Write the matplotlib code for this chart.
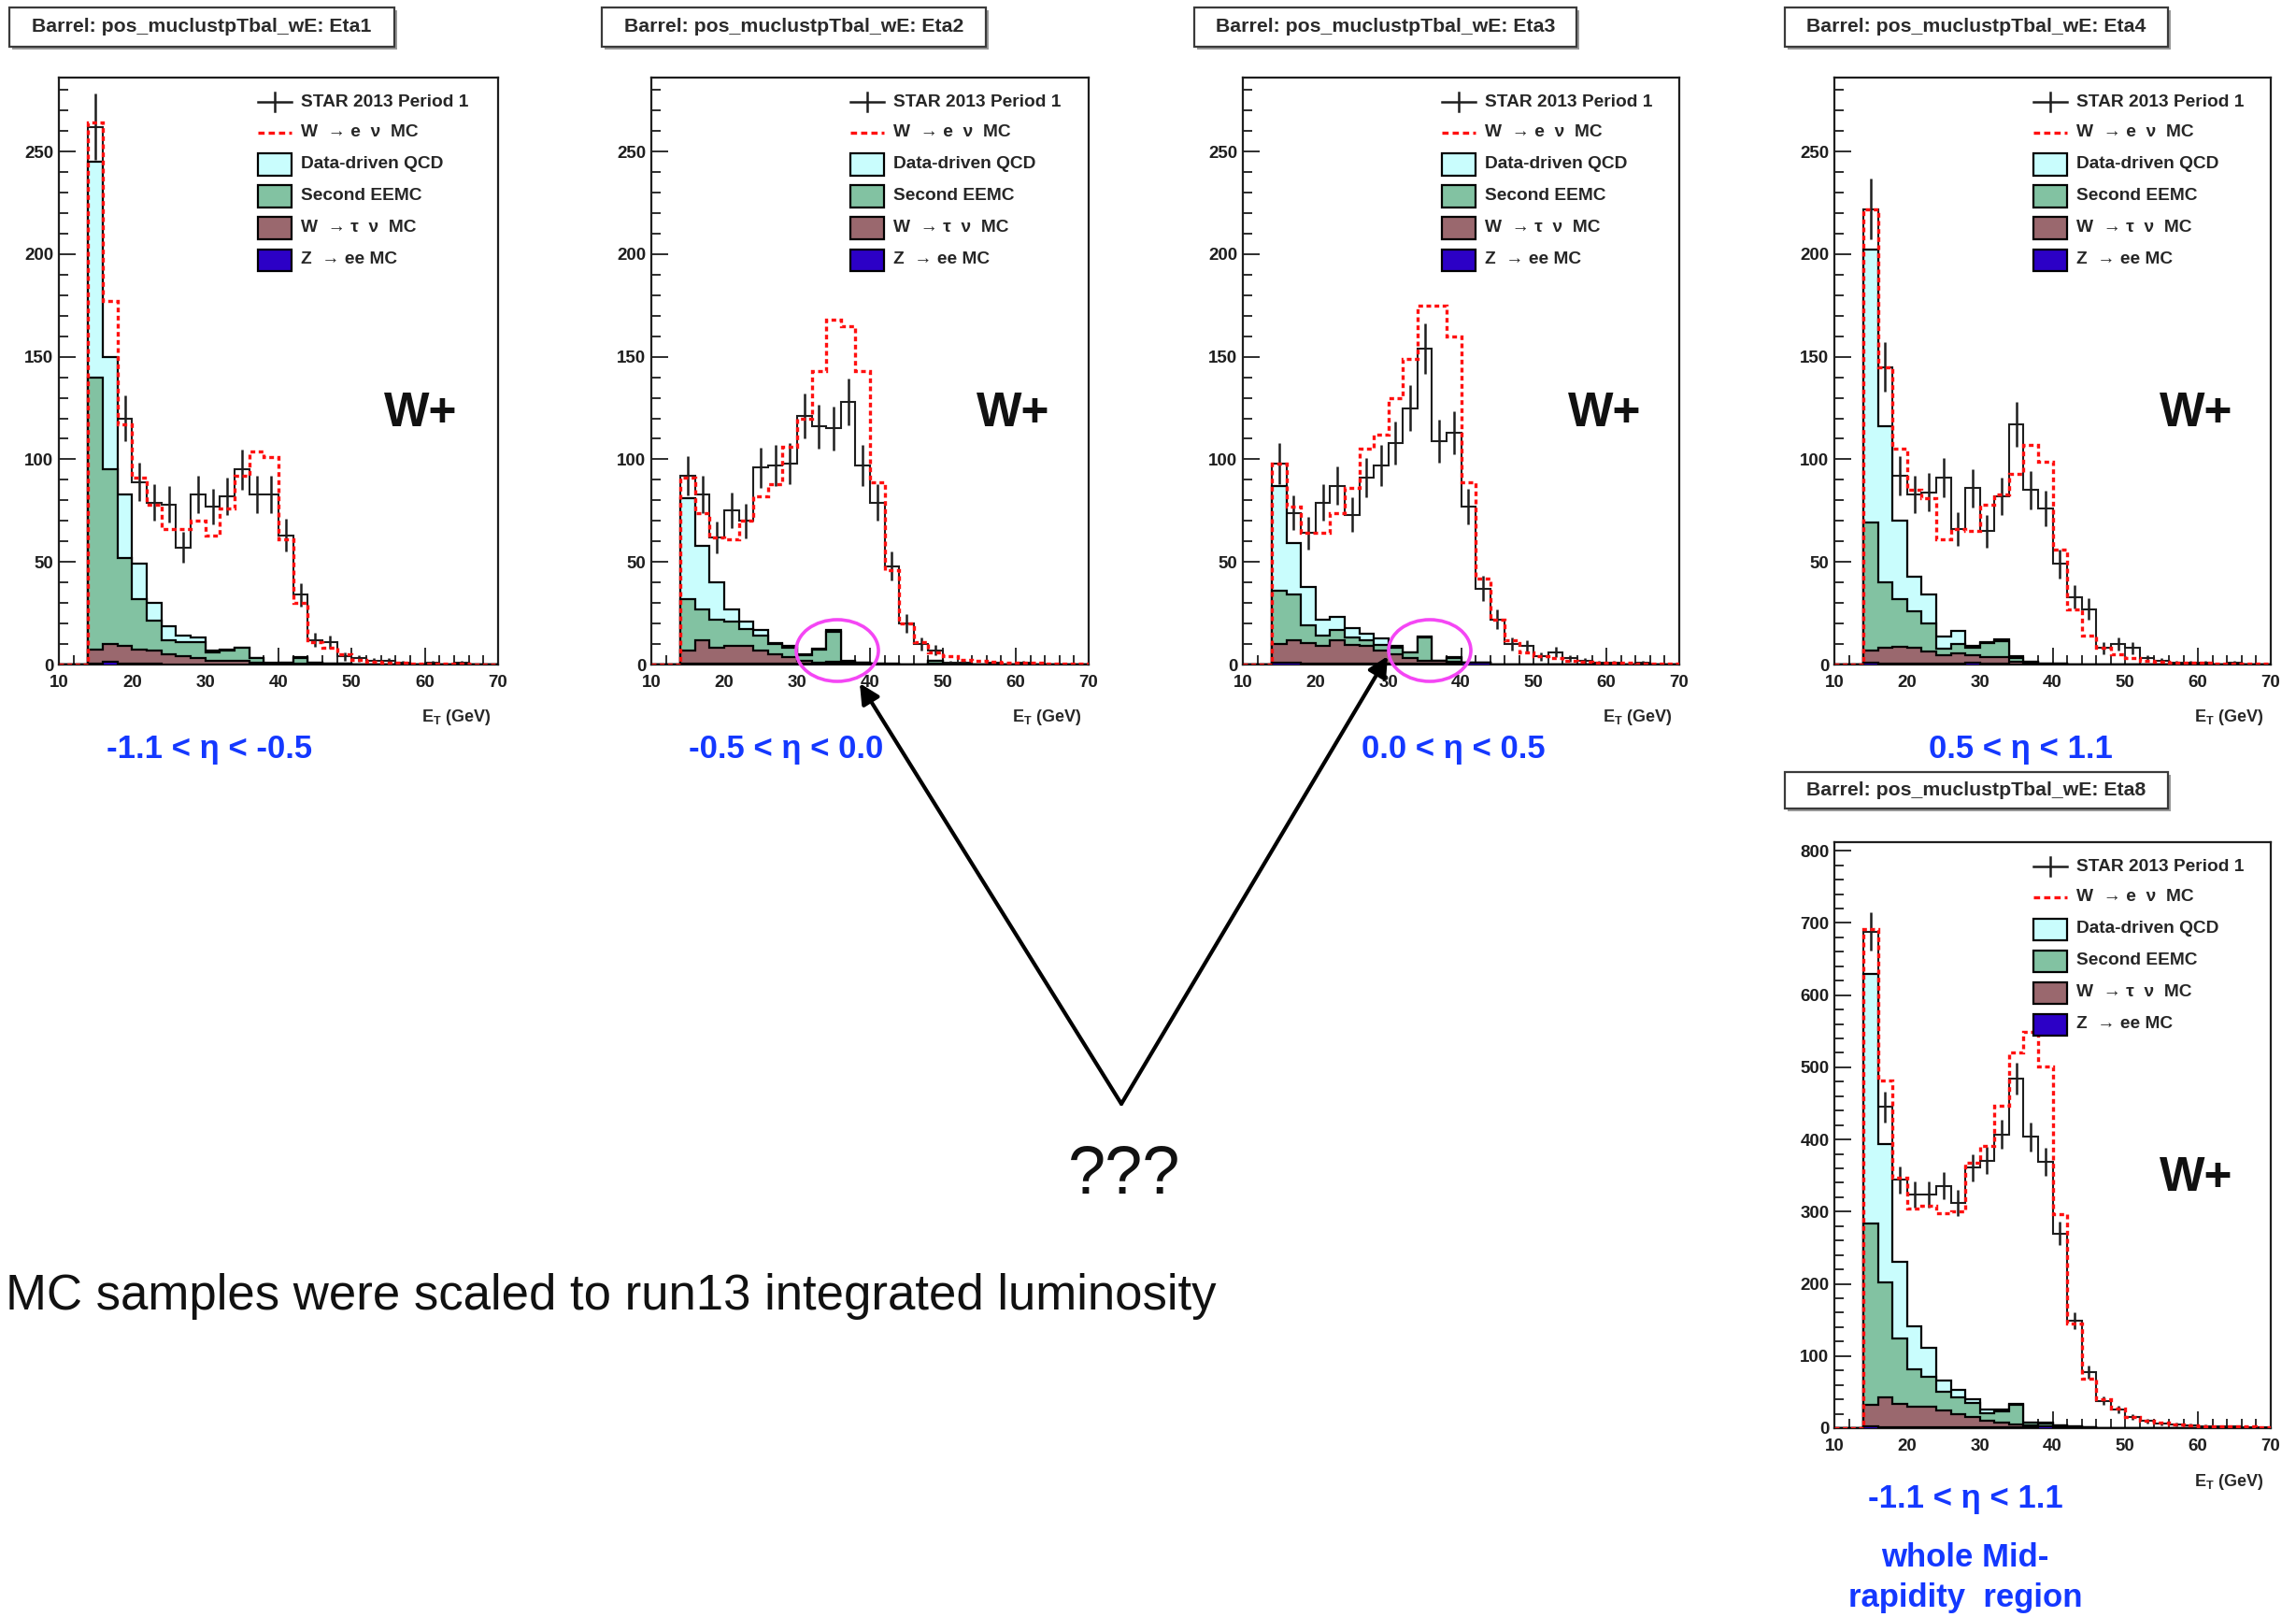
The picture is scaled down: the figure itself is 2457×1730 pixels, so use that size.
import numpy as np
import matplotlib
matplotlib.use("Agg")
import matplotlib.pyplot as plt
from matplotlib.patches import Rectangle, Ellipse
from matplotlib.ticker import MultipleLocator

FONT = ["Liberation Sans", "DejaVu Sans"]
plt.rcParams["font.family"] = FONT
plt.rcParams["mathtext.fontset"] = "custom"
plt.rcParams["mathtext.rm"] = "Liberation Sans:bold"
plt.rcParams["mathtext.it"] = "Liberation Sans:bold"
plt.rcParams["mathtext.bf"] = "Liberation Sans:bold"

# E_T binning: 2 GeV bins from 10 to 70 GeV (30 bins, centres 11 ... 69)
et_edges = np.arange(10, 72, 2)

# ---------------- Eta1 : -1.1 < eta < -0.5 ----------------
data_eta1 = [0, 0, 262, 138, 120, 89, 79, 78, 57, 83, 77, 82, 95, 83, 83, 63, 34, 12, 11, 4,
             3, 2, 2, 1, 0, 1, 0, 1, 0, 0]
wenu_eta1 = [0, 0, 264, 177, 117, 91, 78, 66, 66, 70, 63, 76, 92, 104, 101, 61, 30, 11, 8, 5,
             2.5, 1.5, 1, 1, 0.5, 0.5, 0.3, 0.3, 0.2, 0.2]
qcd_eta1 = [0, 0, 105, 55, 31, 17, 8.5, 6.5, 3, 2, 1, 0.5, 0, 0, 0.5, 0, 0.5, 0.2, 0, 0,
            0, 0, 0, 0, 0, 0, 0, 0, 0, 0]
eemc_eta1 = [0, 0, 132.5, 85, 43, 24.5, 14.5, 7, 7, 8, 4, 5, 6, 2, 0, 0.5, 2.5, 0.4, 0.2, 0,
             0, 0, 0, 0, 0, 0, 0, 0, 0, 0]
wtau_eta1 = [0, 0, 7, 8.5, 8.5, 7.2, 6.7, 4.8, 3.8, 2.8, 1.9, 1.9, 1.9, 0.9, 0.4, 0.4, 0.4, 0.3, 0.2, 0.2,
             0.1, 0.1, 0.1, 0, 0, 0, 0, 0, 0, 0]
zee_eta1 = [0, 0, 0.5, 1.5, 0.5, 0.3, 0.3, 0.2, 0.2, 0.2, 0.1, 0.1, 0.1, 0.1, 0.1, 0.1, 0.1, 0.1, 0.1, 0.1,
            0, 0, 0, 0, 0, 0, 0, 0, 0, 0]

# ---------------- Eta2 : -0.5 < eta < 0.0 ----------------
data_eta2 = [0, 0, 92, 83, 62, 75, 70, 96, 97, 98, 121, 116, 115, 128, 97, 79, 48, 20, 10, 7,
             1, 1, 0, 1, 0, 1, 0, 0, 0, 0]
wenu_eta2 = [0, 0, 91, 74, 62, 61, 70, 82, 88, 106, 120, 143, 168, 165, 143, 89, 46, 20, 11, 6,
             4, 2.5, 2, 1.5, 1, 1, 0.7, 0.5, 0.5, 0.3]
qcd_eta2 = [0, 0, 49, 31, 18, 6, 3.5, 3, 0.5, 1, 0.5, 0.4, 1, 0.5, 0, 0, 0, 0, 0, 0,
            0, 0, 0, 0, 0, 0, 0, 0, 0, 0]
eemc_eta2 = [0, 0, 25, 15, 14, 12, 8.5, 7, 5, 4.5, 2.5, 6.2, 14.8, 0.7, 0.2, 0.2, 0.1, 0, 0, 1.7,
             0, 0, 0, 0, 0, 0, 0, 0, 0, 0]
wtau_eta2 = [0, 0, 6.7, 11.7, 7.7, 8.7, 8.7, 6.7, 4.7, 3.2, 1.7, 0.7, 0.9, 0.2, 0.2, 0.1, 0.1, 0.1, 0.1, 0.2,
             0.1, 0.1, 0, 0, 0, 0, 0, 0, 0, 0]
zee_eta2 = [0, 0, 0.3, 0.3, 0.3, 0.3, 0.3, 0.3, 0.3, 0.3, 0.3, 0.3, 0.3, 0.6, 0.6, 0.2, 0.1, 0.1, 0.1, 0.1,
            0, 0, 0, 0, 0, 0, 0, 0, 0, 0]

# ---------------- Eta3 : 0.0 < eta < 0.5 ----------------
data_eta3 = [0, 0, 98, 74, 64, 79, 87, 73, 91, 97, 108, 125, 154, 109, 113, 77, 37, 22, 10, 9,
             4, 6, 3, 2, 1, 1, 0, 1, 0, 0]
wenu_eta3 = [0, 0, 98, 77, 64, 64, 74, 86, 105, 112, 130, 149, 175, 175, 160, 89, 42, 22, 12, 6,
             4, 3, 2, 1.5, 1, 1, 0.7, 0.5, 0.5, 0.3]
qcd_eta3 = [0, 0, 51, 25, 19, 8, 6, 4.3, 3, 3, 1, 0, 0.1, 0, 0.5, 0, 0, 0, 0, 0,
            0, 0, 0, 0, 0, 0, 0, 0, 0, 0]
eemc_eta3 = [0, 0, 26, 22, 8.6, 5, 5, 3.8, 3, 2.6, 3, 3, 11.4, 0, 1.8, 0, 0, 0, 0, 0,
             0, 0, 0, 0, 0, 0, 0, 0, 0, 0]
wtau_eta3 = [0, 0, 9.2, 11.2, 10.1, 8.7, 11.7, 9.3, 8.7, 6.7, 4.7, 2.7, 1.7, 1.7, 0.7, 0, 0, 0.1, 0.1, 0.1,
             0.1, 0.1, 0, 0, 0, 0, 0, 0, 0, 0]
zee_eta3 = [0, 0, 0.8, 0.8, 0.3, 0.3, 0.3, 0.3, 0.3, 0.3, 0.3, 0.3, 0.3, 0.3, 0.5, 0.8, 0.8, 0.1, 0.1, 0.1,
            0, 0, 0, 0, 0, 0, 0, 0, 0, 0]

# ---------------- Eta4 : 0.5 < eta < 1.1 ----------------
data_eta4 = [0, 0, 222, 145, 92, 83, 84, 91, 66, 86, 65, 82, 117, 85, 76, 49, 33, 27, 8, 10,
             8, 3, 2, 1, 1, 1, 0, 1, 0, 0]
wenu_eta4 = [0, 0, 222, 145, 105, 85, 81, 61, 66, 65, 78, 83, 93, 107, 99, 56, 27, 14, 8, 5,
             3, 2, 1.5, 1, 1, 0.7, 0.5, 0.5, 0.3, 0.3]
qcd_eta4 = [0, 0, 133, 76, 38, 17, 14, 6.1, 6.4, 0.6, 0.4, 1.1, 1, 0.3, 0, 0, 0, 0, 0, 0,
            0, 0, 0, 0, 0, 0, 0, 0, 0, 0]
eemc_eta4 = [0, 0, 62, 31.6, 23.3, 18, 13.6, 3, 4.4, 3.8, 6.8, 7.6, 1.5, 0.4, 0, 0, 0, 0, 0, 0,
             0, 0, 0, 0, 0, 0, 0, 0, 0, 0]
wtau_eta4 = [0, 0, 6.2, 8.1, 8.4, 7.7, 6.1, 4.3, 5.3, 3.8, 3.5, 3.5, 1.3, 0.6, 0.3, 0.2, 0.1, 0.1, 0.1, 0.1,
             0, 0, 0, 0, 0, 0, 0, 0, 0, 0]
zee_eta4 = [0, 0, 0.8, 0.3, 0.3, 0.3, 0.3, 0.3, 0.3, 0.8, 0.3, 0.3, 0.2, 0.2, 0.2, 0.1, 0.1, 0.1, 0, 0,
            0, 0, 0, 0, 0, 0, 0, 0, 0, 0]

# ---------------- Eta8 : -1.1 < eta < 1.1 ----------------
data_eta8 = [0, 0, 688, 445, 344, 324, 324, 336, 312, 361, 371, 407, 484, 404, 369, 270, 149, 78, 38, 26,
             15, 10, 7, 5, 4, 3, 2, 2, 1, 1]
wenu_eta8 = [0, 0, 691, 482, 347, 304, 308, 298, 300, 368, 391, 447, 521, 549, 501, 296, 145, 68, 40, 27,
             16, 10.5, 7.5, 5, 4, 3, 2.5, 2, 2, 1.5]
qcd_eta8 = [0, 0, 346, 192, 106, 60, 40, 15, 10, 5, 5, 3, 1, 0, 1.5, 0, 0, 0, 0, 0,
            0, 0, 0, 0, 0, 0, 0, 0, 0, 0]
eemc_eta8 = [0, 0, 250, 159, 90, 51, 41, 26, 23, 20, 11, 15.5, 28, 4, 3.5, 2, 1, 0.5, 0, 0,
             0, 0, 0, 0, 0, 0, 0, 0, 0, 0]
wtau_eta8 = [0, 0, 30.5, 42, 33, 29, 29, 24, 19, 14, 9, 6.5, 4, 2.5, 0.5, 1, 1, 0.5, 0.3, 0.2,
             0.2, 0.1, 0, 0, 0, 0, 0, 0, 0, 0]
zee_eta8 = [0, 0, 2.5, 1, 1, 1, 1, 1, 1, 1, 1, 1, 1, 1, 2, 1, 0.5, 0.5, 0.3, 0.2,
            0.2, 0.1, 0, 0, 0, 0, 0, 0, 0, 0]

titles = ["Barrel: pos_muclustpTbal_wE: Eta1", "Barrel: pos_muclustpTbal_wE: Eta2",
          "Barrel: pos_muclustpTbal_wE: Eta3", "Barrel: pos_muclustpTbal_wE: Eta4",
          "Barrel: pos_muclustpTbal_wE: Eta8"]
eta_labels = ["-1.1 < \u03b7 < -0.5", "-0.5 < \u03b7 < 0.0", "0.0 < \u03b7 < 0.5",
              "0.5 < \u03b7 < 1.1", "-1.1 < \u03b7 < 1.1"]
legend_labels = ["STAR 2013 Period 1", "W  \u2192 e  \u03bd  MC", "Data-driven QCD",
                 "Second EEMC", "W  \u2192 \u03c4  \u03bd  MC", "Z  \u2192 ee MC"]

# colours
C_QCD = "#c9fdfd"
C_EEMC = "#82c2a2"
C_TAU = "#9a686e"
C_Z = "#2c00c6"
C_RED = "#ff1010"
C_ETA = "#1438ff"
C_RING = "#f446f4"
C_INK = "#1e1e1e"

W, H = 2457, 1730
fig = plt.figure(figsize=(W / 100, H / 100), dpi=100)
fig.patch.set_facecolor("white")


def px_axes(x0, y0, x1, y1):
    return fig.add_axes([x0 / W, 1 - y1 / H, (x1 - x0) / W, (y1 - y0) / H])


def draw_panel(ax, data, wenu, qcd, eemc, wtau, zee, ymax, ymaj, ymin_):
    data = np.asarray(data, float)
    centres = 0.5 * (et_edges[:-1] + et_edges[1:])
    ax.set_xlim(10, 70)
    ax.set_ylim(0, ymax)

    # measured spectrum: step line with Poisson error bars
    ax.stairs(data, et_edges, baseline=None, color=C_INK, lw=1.5, zorder=2)
    err = np.sqrt(data)
    m = data > 0
    ax.vlines(centres[m], (data - err)[m], (data + err)[m], color=C_INK, lw=1.8, zorder=2)

    # stacked backgrounds (Z at the bottom, QCD on top)
    z = np.asarray(zee, float)
    t = z + np.asarray(wtau, float)
    g = t + np.asarray(eemc, float)
    c = g + np.asarray(qcd, float)
    for level, col in [(c, C_QCD), (g, C_EEMC), (t, C_TAU), (z, C_Z)]:
        ax.stairs(level, et_edges, fill=True, facecolor=col, edgecolor="none", zorder=3)
        ax.stairs(level, et_edges, baseline=0, color="black", lw=1.6, zorder=3)

    # W -> e nu MC
    ax.stairs(wenu, et_edges, baseline=None, color=C_RED, lw=2.4,
              linestyle=(0, (1.5, 1.1)), zorder=4)

    ax.xaxis.set_major_locator(MultipleLocator(10))
    ax.xaxis.set_minor_locator(MultipleLocator(2))
    ax.yaxis.set_major_locator(MultipleLocator(ymaj))
    ax.yaxis.set_minor_locator(MultipleLocator(ymin_))
    ax.tick_params(which="both", direction="in", top=False, right=False,
                   width=1.3, color=C_INK, labelsize=13.5, labelcolor=C_INK)
    ax.tick_params(which="major", length=13)
    ax.tick_params(which="minor", length=7)
    ax.tick_params(axis="x", pad=8)
    ax.tick_params(axis="y", pad=4)
    ax.set_axisbelow(True)
    for lbl in ax.get_xticklabels() + ax.get_yticklabels():
        lbl.set_fontweight("bold")
    for sp in ax.spines.values():
        sp.set_linewidth(1.6)
        sp.set_color(C_INK)


def draw_legend(ax):
    bb = ax.get_position()
    wpx, hpx = bb.width * W, bb.height * H

    def fx(px):
        return px / wpx

    def fy(py):
        return 1 - py / hpx

    rows = [26, 59, 93, 127, 161, 195]
    xs0, xs1, xt = 213, 249, 259
    kw = dict(transform=ax.transAxes, clip_on=False, zorder=6)
    # data marker
    ax.plot([fx(xs0), fx(xs1)], [fy(rows[0])] * 2, color=C_INK, lw=1.8, **kw)
    ax.plot([fx((xs0 + xs1) / 2)] * 2, [fy(rows[0] - 10), fy(rows[0] + 10)], color=C_INK, lw=1.8, **kw)
    # W -> e nu MC line
    ax.plot([fx(xs0), fx(xs1)], [fy(rows[1])] * 2, color=C_RED, lw=2.4,
            linestyle=(0, (2.0, 1.3)), **kw)
    # filled boxes
    for row, col in zip(rows[2:], [C_QCD, C_EEMC, C_TAU, C_Z]):
        ax.add_patch(Rectangle((fx(xs0), fy(row + 11.5)), fx(xs1) - fx(xs0), 23 / hpx,
                               facecolor=col, edgecolor="black", lw=1.6, **kw))
    for row, lab in zip(rows, legend_labels):
        ax.text(fx(xt), fy(row), lab, ha="left", va="center", fontsize=13.8,
                fontweight="bold", color="#262626", family=FONT, **kw)


panels = [
    ((63, 83, 533, 711), (data_eta1, wenu_eta1, qcd_eta1, eemc_eta1, wtau_eta1, zee_eta1), 286, 50, 10),
    ((697, 83, 1165, 711), (data_eta2, wenu_eta2, qcd_eta2, eemc_eta2, wtau_eta2, zee_eta2), 286, 50, 10),
    ((1330, 83, 1797, 711), (data_eta3, wenu_eta3, qcd_eta3, eemc_eta3, wtau_eta3, zee_eta3), 286, 50, 10),
    ((1963, 83, 2430, 711), (data_eta4, wenu_eta4, qcd_eta4, eemc_eta4, wtau_eta4, zee_eta4), 286, 50, 10),
    ((1963, 901, 2430, 1528), (data_eta8, wenu_eta8, qcd_eta8, eemc_eta8, wtau_eta8, zee_eta8), 812, 100, 20),
]

axes = []
for rect, series, ymax, ymaj, ymin_ in panels:
    ax = px_axes(*rect)
    draw_panel(ax, *series, ymax, ymaj, ymin_)
    draw_legend(ax)
    bb = ax.get_position()
    wpx, hpx = bb.width * W, bb.height * H
    ax.text(387 / wpx, 1 - 359 / hpx, "W+", transform=ax.transAxes, ha="center", va="center",
            fontsize=37, fontweight="bold", color="#111111", zorder=6)
    ax.text(1 - 8 / wpx, -57 / hpx, r"E$_{\mathrm{T}}$ (GeV)", transform=ax.transAxes,
            ha="right", va="center", fontsize=13, fontweight="bold", color="#262626")
    axes.append(ax)

# annotation layer in pixel coordinates
ov = fig.add_axes([0, 0, 1, 1], zorder=10)
ov.set_xlim(0, W)
ov.set_ylim(H, 0)
ov.axis("off")
ov.patch.set_alpha(0)

title_boxes = [(10, 8, 422, 50), (644, 8, 1055, 50), (1278, 8, 1687, 50),
               (1910, 8, 2320, 50), (1910, 826, 2320, 865)]
for (x0, y0, x1, y1), ttl in zip(title_boxes, titles):
    ov.add_patch(Rectangle((x0 + 3, y0 + 3), x1 - x0, y1 - y0, facecolor="#9a9a9a",
                           edgecolor="none", zorder=1))
    ov.add_patch(Rectangle((x0, y0), x1 - x0, y1 - y0, facecolor="white",
                           edgecolor="#3a3a3a", lw=1.6, zorder=2))
    ov.text((x0 + x1) / 2, (y0 + y1) / 2, ttl, ha="center", va="center", fontsize=15.3,
            fontweight="bold", color="#2a2a2a", zorder=3)

eta_pos = [(224, 801), (841, 801), (1555, 801), (2162, 801), (2103, 1603)]
for (x, y), lab in zip(eta_pos, eta_labels):
    ov.text(x, y, lab, ha="center", va="center", fontsize=25, fontweight="bold", color=C_ETA)
ov.text(2103, 1667, "whole Mid-", ha="center", va="center", fontsize=25,
        fontweight="bold", color=C_ETA)
ov.text(2103, 1710, "rapidity  region", ha="center", va="center", fontsize=25,
        fontweight="bold", color=C_ETA)

# rings around the EEMC excess near 35 GeV
for cx, cy in [(896, 696), (1530, 696)]:
    ov.add_patch(Ellipse((cx, cy), 88, 66, facecolor="none", edgecolor=C_RING, lw=2.6, zorder=5))

# arrows from the question marks
vertex = (1200, 1181)
for tip in [(920, 731), (1485, 702)]:
    ov.annotate("", xy=tip, xytext=vertex,
                arrowprops=dict(arrowstyle="-|>", lw=3.0, color="black",
                                mutation_scale=32, shrinkA=0, shrinkB=0), zorder=6)

ov.text(1203, 1277, "???", ha="center", va="baseline", fontsize=52, color="#111111")
ov.text(1302, 1401, "MC samples were scaled to run13 integrated luminosity", ha="right",
        va="baseline", fontsize=38, color="#111111")

fig.savefig("out.png", dpi=100, facecolor="white")
